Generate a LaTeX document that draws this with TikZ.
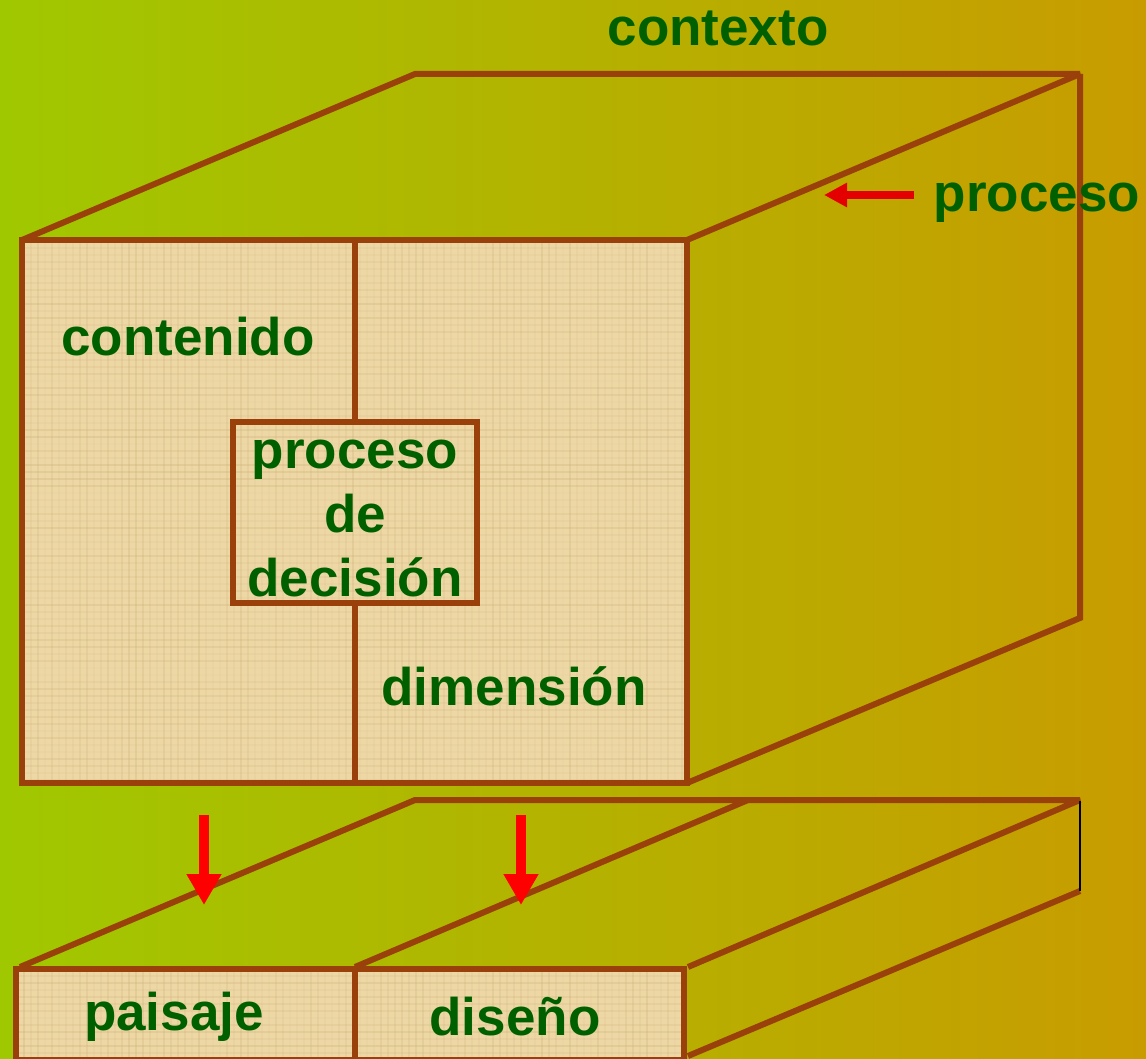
\documentclass[tikz,border=0pt]{standalone}
\usepackage{fontspec}
\setmainfont{Liberation Sans}
\usepackage{xcolor}
\usetikzlibrary{calc}
\usetikzlibrary{arrows.meta}

\definecolor{fondoverde}{RGB}{160,200,0}
\definecolor{fondoocre}{RGB}{200,156,0}
\definecolor{papiro}{RGB}{237,215,165}
\definecolor{trama}{RGB}{200,170,110}
\definecolor{borde}{RGB}{154,64,10}
\definecolor{textoverde}{RGB}{0,96,0}
\definecolor{rojo}{RGB}{228,0,0}

\begin{document}
\begin{tikzpicture}[x=0.5pt,y=-0.5pt]

\tikzset{
    texto/.style = {
    font=\fontsize{26.5}{32}\selectfont\bfseries,
    text=textoverde,
    inner sep=0pt
    }
}

\tikzstyle{arista}=[draw=borde, line width=3pt, miter limit=2]
\tikzstyle{flecha}=[draw=red, line width=5pt, -{Triangle[width=16.5pt,length=15.5pt]}]

% fondo
\useasboundingbox (0,0) rectangle (1146,1059);
\clip (0,0) rectangle (1146,1059);
\shade[left color=fondoverde, right color=fondoocre] (0,0) rectangle (1146,1059);

% caras de papiro
\begin{scope}
\clip (22,240) rectangle (687,783) (16,969) rectangle (684,1060);
\fill[papiro] (0,200) rectangle (700,1070);
\pgfmathsetseed{11}
\foreach \i in {0,...,96} {
  \pgfmathsetmacro\op{0.04+0.22*rnd}
  \draw[trama, opacity=\op, line width=0.6pt] (17+7*\i,240) -- (17+7*\i,1060);
}
\foreach \j in {0,...,117} {
  \pgfmathsetmacro\op{0.04+0.22*rnd}
  \draw[trama, opacity=\op, line width=0.6pt] (16,241+7*\j) -- (687,241+7*\j);
}
\end{scope}

% caja grande
\draw[arista] (22,240) rectangle (687,783);
\draw[arista] (22,240) -- (415,74) -- (1080,74) -- (687,240);
\draw[arista] (1080,74) -- (1080,618) -- (687,783);

\node (decision) [arista, texto, align=center, minimum width=122pt, minimum height=90.5pt] at (355,512) {\rule{0pt}{20.5pt}proceso\\de\\decisión};
\draw[arista] (355,240) -- (decision.north);
\draw[arista] (decision.south) -- (355,783);

% caja de abajo
\draw[arista] (16,969) rectangle (684,1060);
\draw[arista] (355,969) -- (355,1060);
\draw[arista] (20,967) -- (415,800) -- (1080,800) -- (688,967);
\draw[arista] (355,967) -- (748,800);
\draw[arista] (1080,891) -- (688,1056);
\draw[black, line width=0.6pt] (1080,801) -- (1080,891);

% textos
\node (contexto) [texto, anchor=base] at (718,46) {contexto};
\node (proceso) [texto, anchor=base] at (1037,212) {proceso};
\node (contenido) [texto, anchor=base] at (188,356) {contenido};
\node (dimension) [texto, anchor=base] at (514,705) {dimensión};
\node (paisaje) [texto, anchor=base] at (174,1030) {paisaje};
\node (diseno) [texto, anchor=base] at (515,1035) {diseño};

% flechas
\coordinate (p-ini) at (914,195);
\coordinate (p-fin) at (824,195);
\draw[flecha, draw=rojo, line width=4pt, -{Triangle[width=11.5pt,length=11.5pt]}] (p-ini) -- (p-fin);

\coordinate (a-ini) at (204,815);
\coordinate (a-fin) at (204,905);
\coordinate (b-ini) at (521,815);
\coordinate (b-fin) at (521,905);
\draw[flecha] (a-ini) -- (a-fin);
\draw[flecha] (b-ini) -- (b-fin);

\end{tikzpicture}
\end{document}
